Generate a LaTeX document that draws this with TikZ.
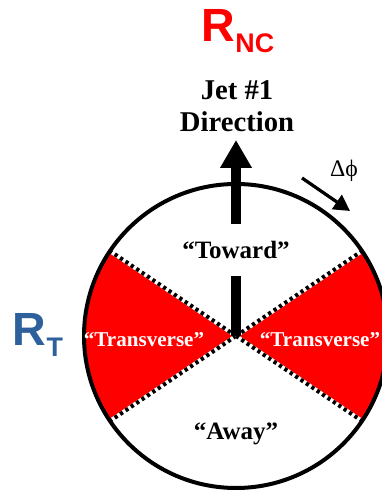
\documentclass[tikz,border=0pt]{standalone}
\usepackage{fontspec}
\setmainfont{Liberation Serif}
\newfontfamily\labelsans{Liberation Sans}
\usetikzlibrary{arrows.meta, positioning}
\definecolor{sectorred}{HTML}{FF0000}
\definecolor{rtblue}{HTML}{2E609C}
\newcommand{\RadPx}{152}

\begin{document}
\begin{tikzpicture}[
    x=0.2mm, y=0.2mm,
    sector/.style={fill=sectorred},
    dotback/.style={line width=0.8mm, white},
    dotline/.style={line width=0.8mm, dash pattern=on 0.65mm off 0.65mm},
    ring/.style={line width=0.8mm},
    jetarr/.style={line width=2mm},
    region/.style={font=\bfseries\fontsize{14.2}{16}\selectfont, inner sep=0pt},
    trans/.style={font=\bfseries\fontsize{12}{14}\selectfont, text=white, inner sep=0pt},
    bigR/.style={font=\labelsans\bfseries, inner sep=0pt}
  ]
  \useasboundingbox (0,0) rectangle (382,496);
  \clip (0,0) rectangle (382,496);
  \coordinate (ctr) at (236,160);
  % transverse wedges
  \fill[sector] (ctr) -- ++(-34:\RadPx) arc (-34:34:\RadPx) -- cycle;
  \fill[sector] (ctr) -- ++(146:\RadPx) arc (146:214:\RadPx) -- cycle;
  \foreach \ang in {34,146,214,326}{
    \draw[dotback] (ctr) -- ++(\ang:\RadPx);
    \draw[dotline] (ctr) -- ++(\ang:\RadPx);
  }
  \draw[ring] (ctr) circle (\RadPx);
  % region labels
  \node[region, minimum height=10.4mm] (toward) at (236,246) {“Toward”};
  \node[region, anchor=base] (away) at (236,56) {“Away”};
  \node[trans, anchor=base] (transL) at (144,149) {“Transverse”};
  \node[trans, anchor=base] (transR) at (320,149) {“Transverse”};
  % jet axis
  \coordinate (jettip) at (236,356);
  \draw[jetarr] (ctr) -- (toward.south);
  \draw[jetarr, -{Triangle[width=6mm,length=5.6mm]}] (toward.north) -- (jettip);
  \node[font=\bfseries\fontsize{16.3}{18.1}\selectfont, align=center, inner sep=0pt] (jet) at (237,390) {Jet \#1\\Direction};
  % angle direction
  \node[font=\fontsize{13.5}{14}\selectfont, anchor=base, inner sep=0pt] (dphi) at (344,319) {Δϕ};
  \coordinate (dphiS) at (302,318);
  \coordinate (dphiE) at (350,285);
  \draw[line width=0.65mm, -{Triangle[width=3.4mm,length=3.2mm]}] (dphiS) -- (dphiE);
  % region names
  \node[bigR, text=sectorred, anchor=base] (rnc) at (238,454)
    {{\fontsize{26.5}{28}\selectfont R}\raisebox{-6.2pt}{\fontsize{15.3}{16}\selectfont NC}};
  \node[bigR, text=rtblue, anchor=base] (rt) at (38,150)
    {{\fontsize{26.5}{28}\selectfont R}\raisebox{-6.2pt}{\fontsize{15.3}{16}\selectfont T}};
\end{tikzpicture}
\end{document}
